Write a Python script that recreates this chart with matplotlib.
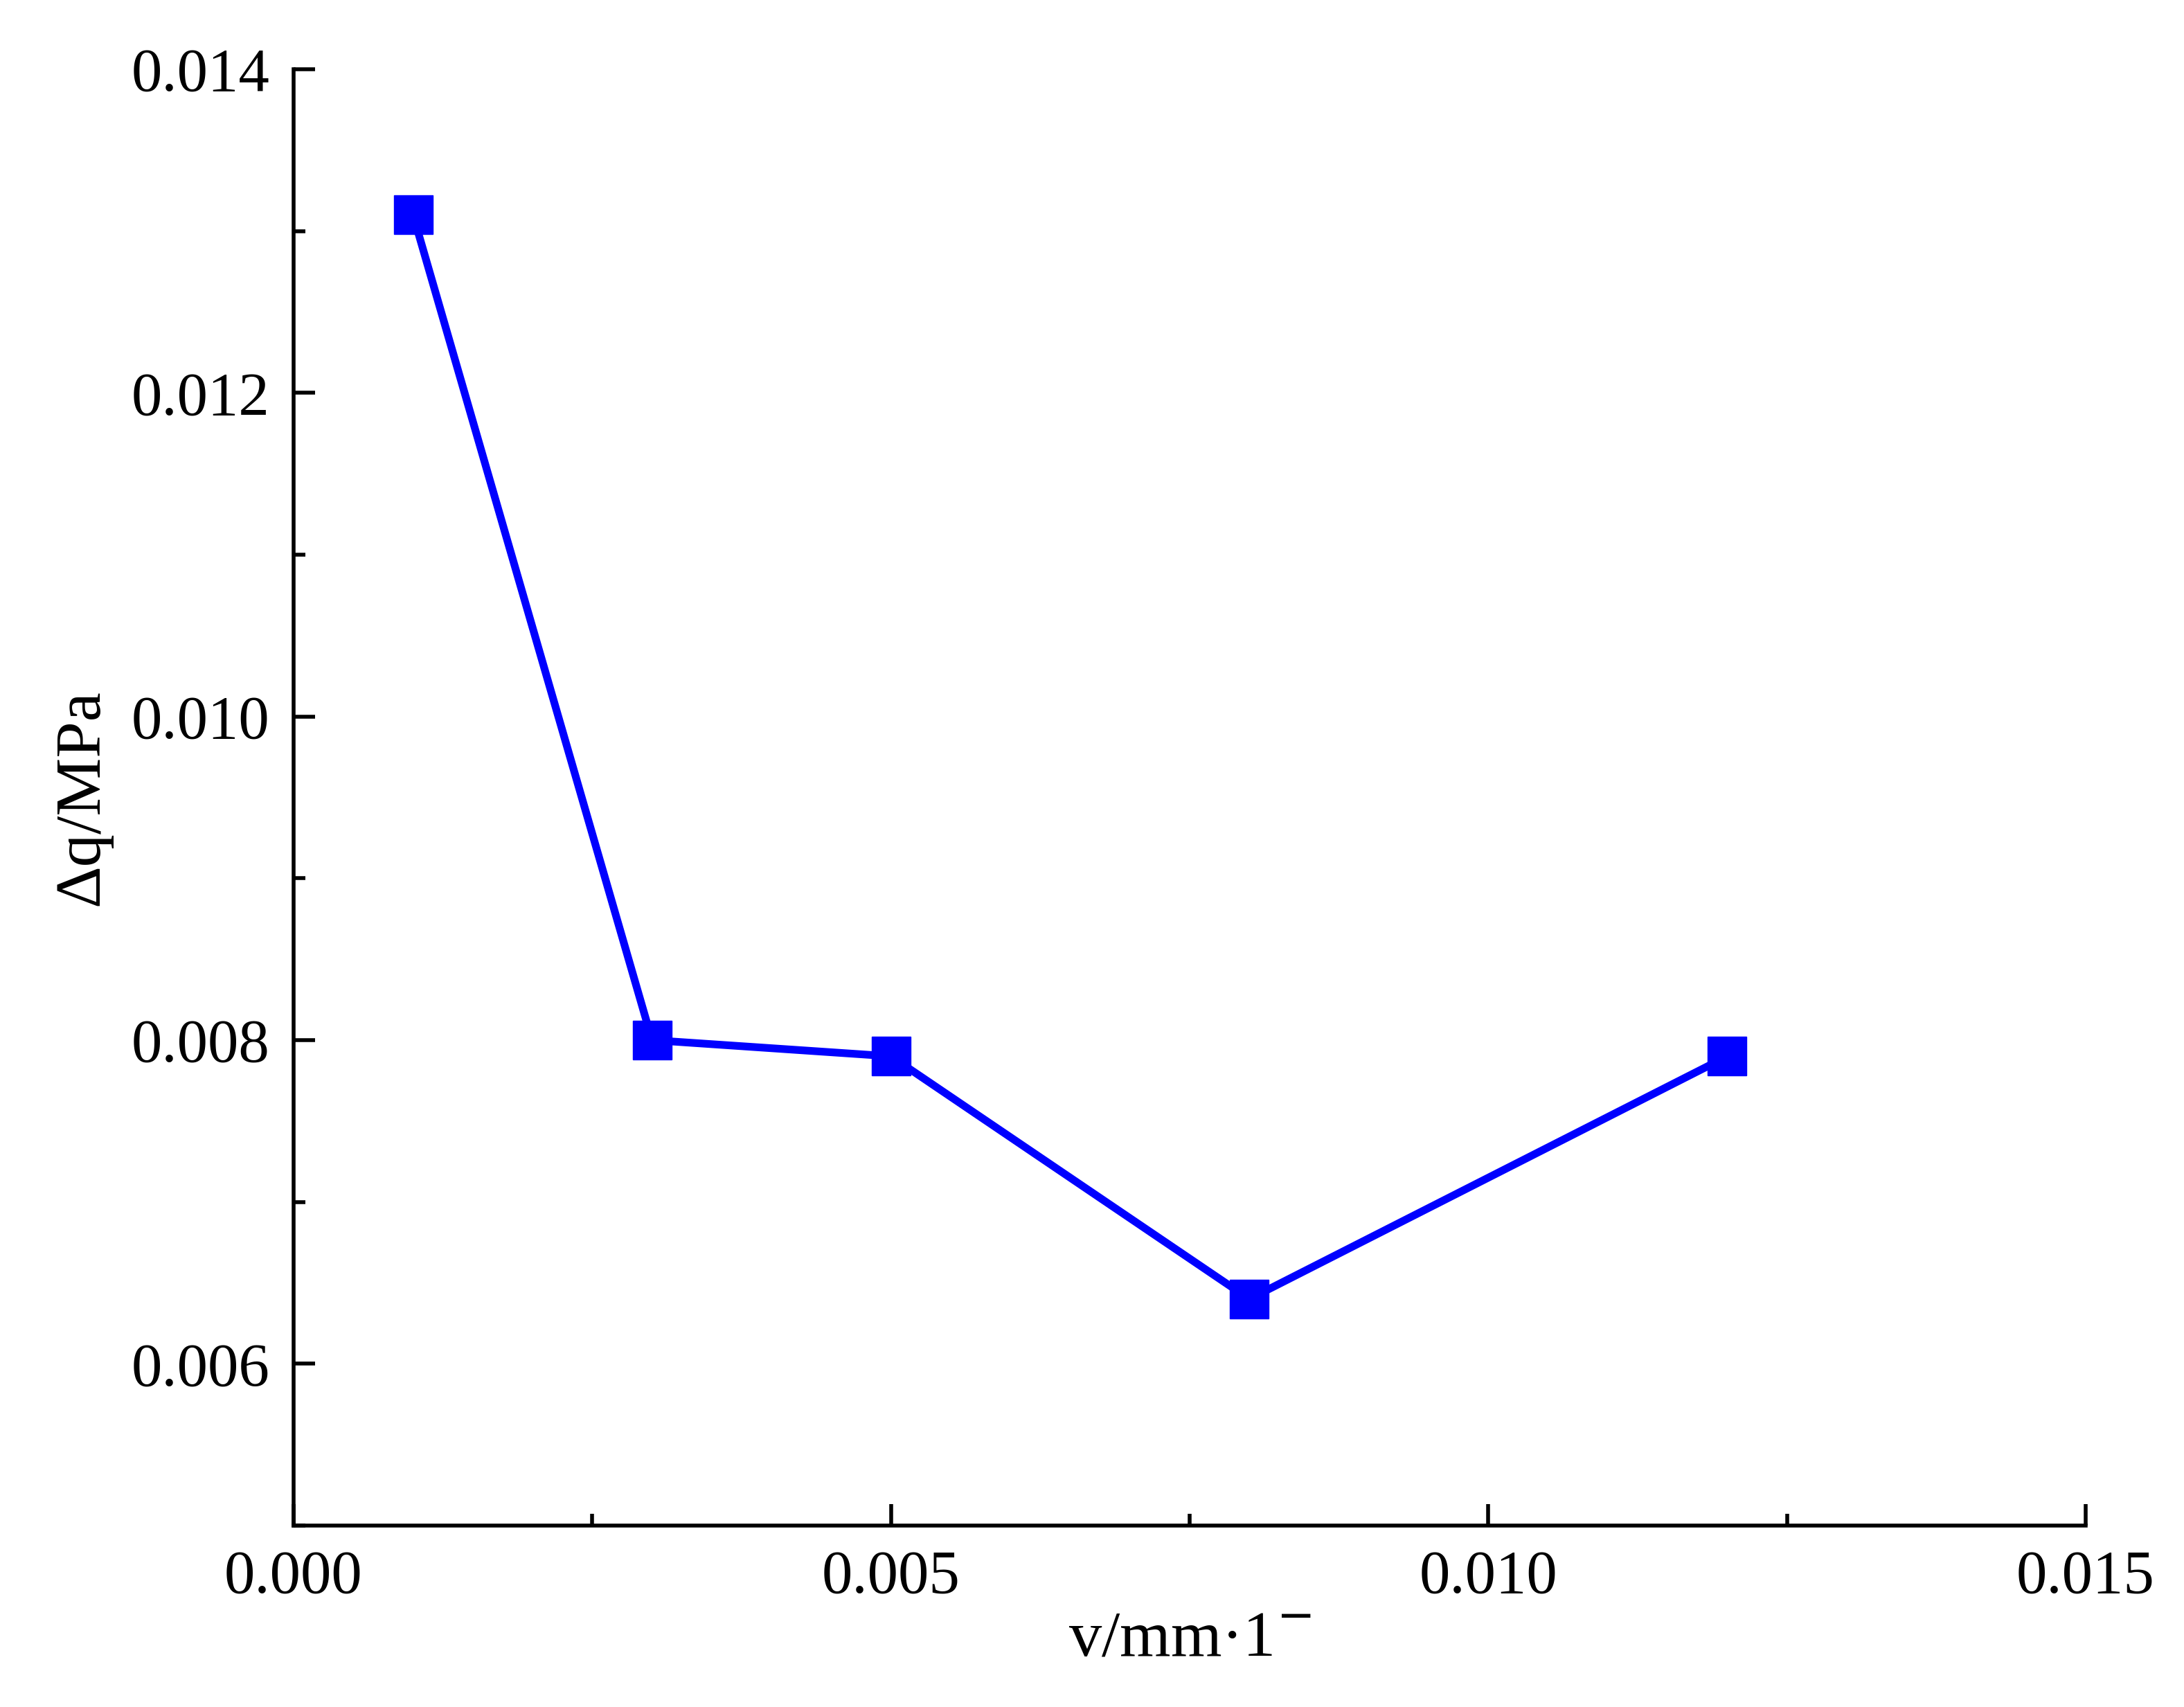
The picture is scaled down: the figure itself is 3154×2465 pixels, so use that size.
import matplotlib
matplotlib.use("Agg")
import matplotlib.pyplot as plt
from matplotlib.ticker import MultipleLocator

x = [0.001, 0.003, 0.005, 0.008, 0.012]
y = [0.0131, 0.0080, 0.0079, 0.0064, 0.0079]

plt.rcParams['font.family'] = ['Liberation Serif', 'DejaVu Serif']
fig = plt.figure(figsize=(31.54, 24.65), dpi=100)
ax = fig.add_axes([424/3154, 1 - 2203/2465, (3012-424)/3154, (2203-100)/2465])
ax.plot(x, y, color='#0000ff', lw=8, marker='s', ms=40, mec='#0000ff', mfc='#0000ff')
ax.set_xlim(0, 0.015)
ax.set_ylim(0.005, 0.014)
ax.xaxis.set_major_locator(MultipleLocator(0.005))
ax.xaxis.set_minor_locator(MultipleLocator(0.0025))
ax.yaxis.set_major_locator(MultipleLocator(0.002))
ax.yaxis.set_minor_locator(MultipleLocator(0.001))
ax.set_xticklabels([], minor=True)
ax.xaxis.set_major_formatter(plt.FuncFormatter(lambda v, p: f"{v:.3f}"))
ax.yaxis.set_major_formatter(plt.FuncFormatter(lambda v, p: f"{v:.3f}" if v > 0.0055 else ""))
for s in ['top', 'right']:
    ax.spines[s].set_visible(False)
for s in ['left', 'bottom']:
    ax.spines[s].set_linewidth(4)
ax.tick_params(which='major', direction='in', length=22, width=4, labelsize=64, pad=25)
ax.tick_params(which='minor', direction='in', length=12, width=4)
ax.set_xlabel('v/mm·1$^{-}$', fontsize=68, labelpad=5)
ax.set_ylabel('Δq/MPa', fontsize=68, labelpad=20)
fig.savefig('out.png', dpi=100)
